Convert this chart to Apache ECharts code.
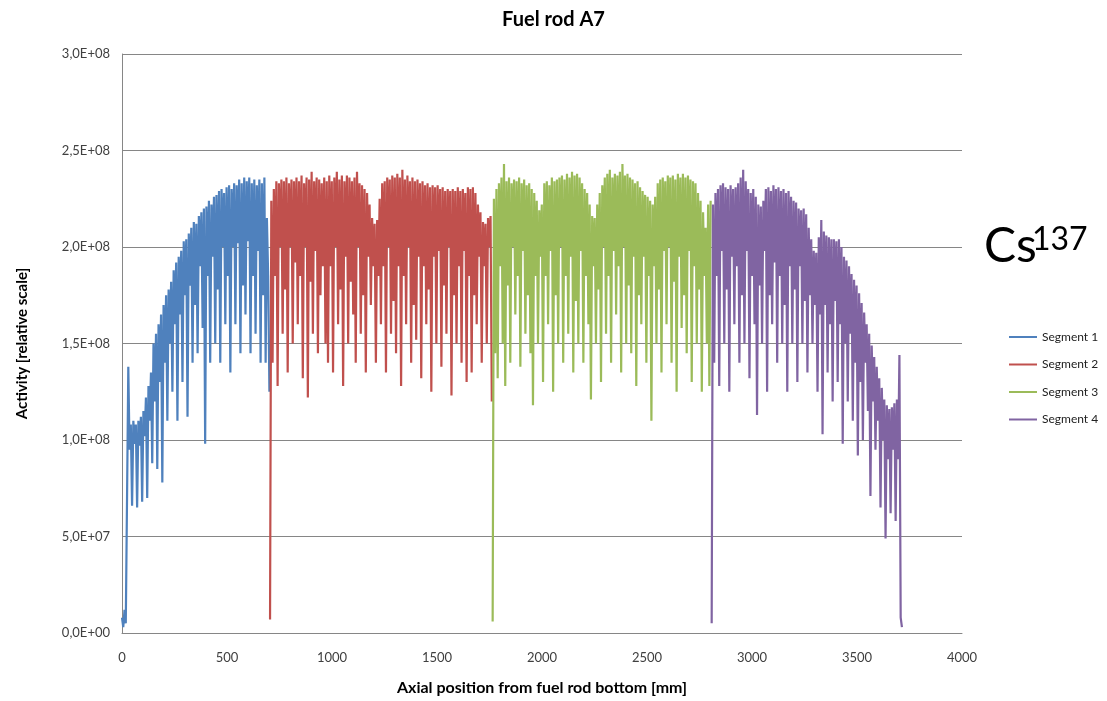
<!DOCTYPE html>
<html>
<head>
<meta charset="utf-8">
<title>Fuel rod A7</title>
<script src="https://cdn.jsdelivr.net/npm/echarts@6/dist/echarts.min.js"></script>
<style>
  html, body { margin: 0; padding: 0; background: #fff; }
  #chart { width: 1107px; height: 701px; }
</style>
</head>
<body>
<div id="chart"></div>
<script>
// gamma scan readout, activity in units of 1e6, one sample every 6 mm
var segNames = ['Segment 1', 'Segment 2', 'Segment 3', 'Segment 4'];
var segColors = ['#4F81BD', '#C0504D', '#9BBB59', '#8064A2'];
var segStart = [0, 705, 1765, 2808];   // mm, first sample of each segment
var stepMm = 6;

var seg1 = [8, 3, 12, 5, 70, 138, 95, 108, 66, 110, 98, 108, 65, 110, 97, 112, 68, 115, 102, 122,
  70, 128, 110, 135, 88, 150, 120, 155, 85, 160, 130, 165, 78, 170, 140, 175, 110, 178, 150, 182,
  125, 188, 160, 192, 110, 195, 165, 198, 130, 203, 175, 204, 112, 207, 180, 210, 140, 213, 170, 212,
  145, 216, 190, 218, 158, 220, 98, 221, 185, 224, 140, 222, 195, 226, 150, 227, 178, 229, 140, 230,
  200, 228, 160, 231, 185, 232, 135, 230, 200, 233, 160, 232, 202, 235, 145, 233, 180, 236, 165, 234,
  203, 236, 145, 233, 185, 235, 155, 232, 198, 235, 140, 233, 175, 236, 140, 215, 185, 125];

var seg2 = [7, 224, 140, 230, 185, 234, 128, 233, 200, 235,
  155, 234, 178, 236, 135, 233, 200, 235, 150, 234,
  192, 236, 160, 234, 185, 237, 132, 233, 200, 236,
  122, 235, 182, 239, 155, 234, 198, 236, 145, 235,
  175, 233, 190, 236, 150, 234, 140, 237, 190, 234,
  135, 236, 200, 239, 160, 235, 178, 237, 128, 234,
  195, 237, 150, 236, 182, 234, 165, 236, 140, 239,
  200, 233, 155, 232, 175, 230, 135, 228, 195, 222,
  170, 215, 190, 212, 140, 214, 185, 225, 160, 233,
  190, 234, 135, 236, 200, 235, 155, 237, 172, 236,
  145, 238, 190, 236, 128, 240, 185, 235, 160, 237,
  200, 234, 140, 236, 170, 234, 152, 235, 195, 233,
  132, 234, 190, 232, 160, 233, 178, 231, 125, 232,
  195, 231, 150, 232, 198, 230, 138, 231, 180, 229,
  155, 230, 200, 229, 123, 230, 175, 229, 150, 231,
  190, 229, 140, 230, 198, 228, 130, 231, 185, 230,
  135, 231, 175, 228, 160, 222, 195, 218, 140, 213,
  190, 212, 150, 215, 200, 216, 120];

var seg3 = [6, 225, 145, 230, 132, 233, 190, 236, 150, 243,
  128, 234, 180, 236, 140, 233, 200, 235, 165, 234,
  185, 236, 138, 233, 198, 235, 155, 232, 175, 233,
  145, 230, 118, 228, 185, 224, 150, 219, 195, 222,
  130, 233, 185, 234, 160, 232, 198, 236, 125, 234,
  175, 235, 150, 236, 200, 237, 140, 235, 185, 238,
  155, 236, 195, 239, 135, 237, 172, 238, 150, 236,
  198, 233, 140, 230, 185, 228, 160, 222, 121, 216,
  190, 215, 150, 222, 178, 228, 130, 232, 200, 236,
  155, 238, 185, 240, 140, 236, 198, 238, 165, 237,
  190, 239, 135, 243, 200, 237, 150, 238, 180, 236,
  145, 235, 195, 233, 128, 234, 175, 231, 160, 229,
  195, 227, 140, 226, 185, 224, 110, 222, 190, 226,
  150, 233, 178, 235, 135, 236, 198, 234, 160, 237,
  200, 236, 140, 237, 182, 235, 125, 238, 195, 236,
  158, 238, 175, 236, 145, 237, 198, 235, 130, 234,
  190, 233, 150, 228, 178, 224, 125, 218, 185, 210,
  150, 222, 128, 224];

var seg4 = [5, 222, 140, 228, 185, 230, 128, 232, 198, 233,
  150, 231, 178, 230, 125, 232, 195, 230, 160, 231,
  190, 233, 140, 236, 175, 240, 150, 234, 198, 230,
  132, 228, 185, 230, 160, 226, 113, 222, 180, 221,
  150, 224, 198, 230, 125, 231, 175, 229, 160, 232,
  192, 230, 140, 231, 185, 229, 150, 230, 170, 228,
  125, 229, 190, 226, 150, 224, 178, 223, 130, 220,
  190, 219, 150, 220, 172, 217, 135, 210, 175, 204,
  150, 198, 170, 197, 125, 205, 165, 214, 103, 208,
  170, 206, 135, 205, 160, 204, 120, 204, 172, 203,
  130, 204, 160, 200, 98, 195, 150, 193, 120, 190,
  155, 186, 110, 183, 140, 180, 92, 176, 130, 171,
  100, 166, 140, 160, 115, 155, 71, 149, 120, 143,
  95, 138, 110, 132, 65, 127, 100, 121, 49, 118,
  90, 116, 62, 117, 95, 119, 58, 121, 90, 144,
  8, 3];

var yTickLabels = ['0,0E+00', '5,0E+07', '1,0E+08', '1,5E+08', '2,0E+08', '2,5E+08', '3,0E+08'];

var segValues = [seg1, seg2, seg3, seg4];
var fontFam = 'Lato, "Open Sans", sans-serif';

var mychart = echarts.init(document.getElementById('chart'));

var seriesList = segValues.map(function (vals, k) {
  return {
    name: segNames[k],
    type: 'line',
    showSymbol: false,
    symbol: 'none',
    lineStyle: { width: 2.2, color: segColors[k] },
    itemStyle: { color: segColors[k] },
    data: vals.map(function (v, i) { return [segStart[k] + i * stepMm, v * 1e6]; })
  };
});

var option = {
  animation: false,
  backgroundColor: '#fff',
  title: {
    text: 'Fuel rod A7',
    left: 'center',
    top: 5,
    textStyle: { fontFamily: fontFam, fontSize: 20, fontWeight: 'bold', color: '#000' }
  },
  legend: {
    orient: 'vertical',
    left: 1004,
    top: 325,
    itemWidth: 28,
    itemHeight: 2,
    itemGap: 13.5,
    icon: 'rect',
    data: segNames,
    textStyle: { fontFamily: fontFam, fontSize: 12, color: '#222', lineHeight: 14 }
  },
  grid: { left: 122, right: 145, top: 54, bottom: 66 },
  xAxis: {
    type: 'value',
    min: 0, max: 4000, interval: 500,
    name: 'Axial position from fuel rod bottom [mm]',
    nameLocation: 'middle',
    nameGap: 47,
    nameTextStyle: { fontFamily: fontFam, fontSize: 16, fontWeight: 'bold', color: '#000' },
    axisLine: { show: true, lineStyle: { color: '#868686', width: 1 } },
    axisTick: { show: false },
    splitLine: { show: false },
    axisLabel: {
      fontFamily: fontFam, fontSize: 13, color: '#404040', margin: 18,
      formatter: function (v) { return String(v); }
    }
  },
  yAxis: {
    type: 'value',
    min: 0, max: 3e8, interval: 5e7,
    name: 'Activity [relative scale]',
    nameLocation: 'middle',
    nameRotate: 90,
    nameGap: 92,
    nameTextStyle: { fontFamily: fontFam, fontSize: 15, fontWeight: 'bold', color: '#000' },
    axisLine: { show: true, lineStyle: { color: '#868686', width: 1 } },
    axisTick: { show: false },
    splitLine: { show: true, lineStyle: { color: '#868686', width: 1 } },
    axisLabel: {
      fontFamily: fontFam, fontSize: 13, color: '#404040', margin: 12,
      formatter: function (v) { return yTickLabels[Math.round(v / 5e7)]; }
    }
  },
  graphic: [
    { type: 'text', left: 984, top: 223, style: { text: 'Cs', font: '48px Lato, sans-serif', fill: '#000' } },
    { type: 'text', left: 1032, top: 224, style: { text: '137', font: '32px Lato, sans-serif', fill: '#000' } }
  ],
  series: seriesList
};
mychart.setOption(option);
</script>
</body>
</html>
